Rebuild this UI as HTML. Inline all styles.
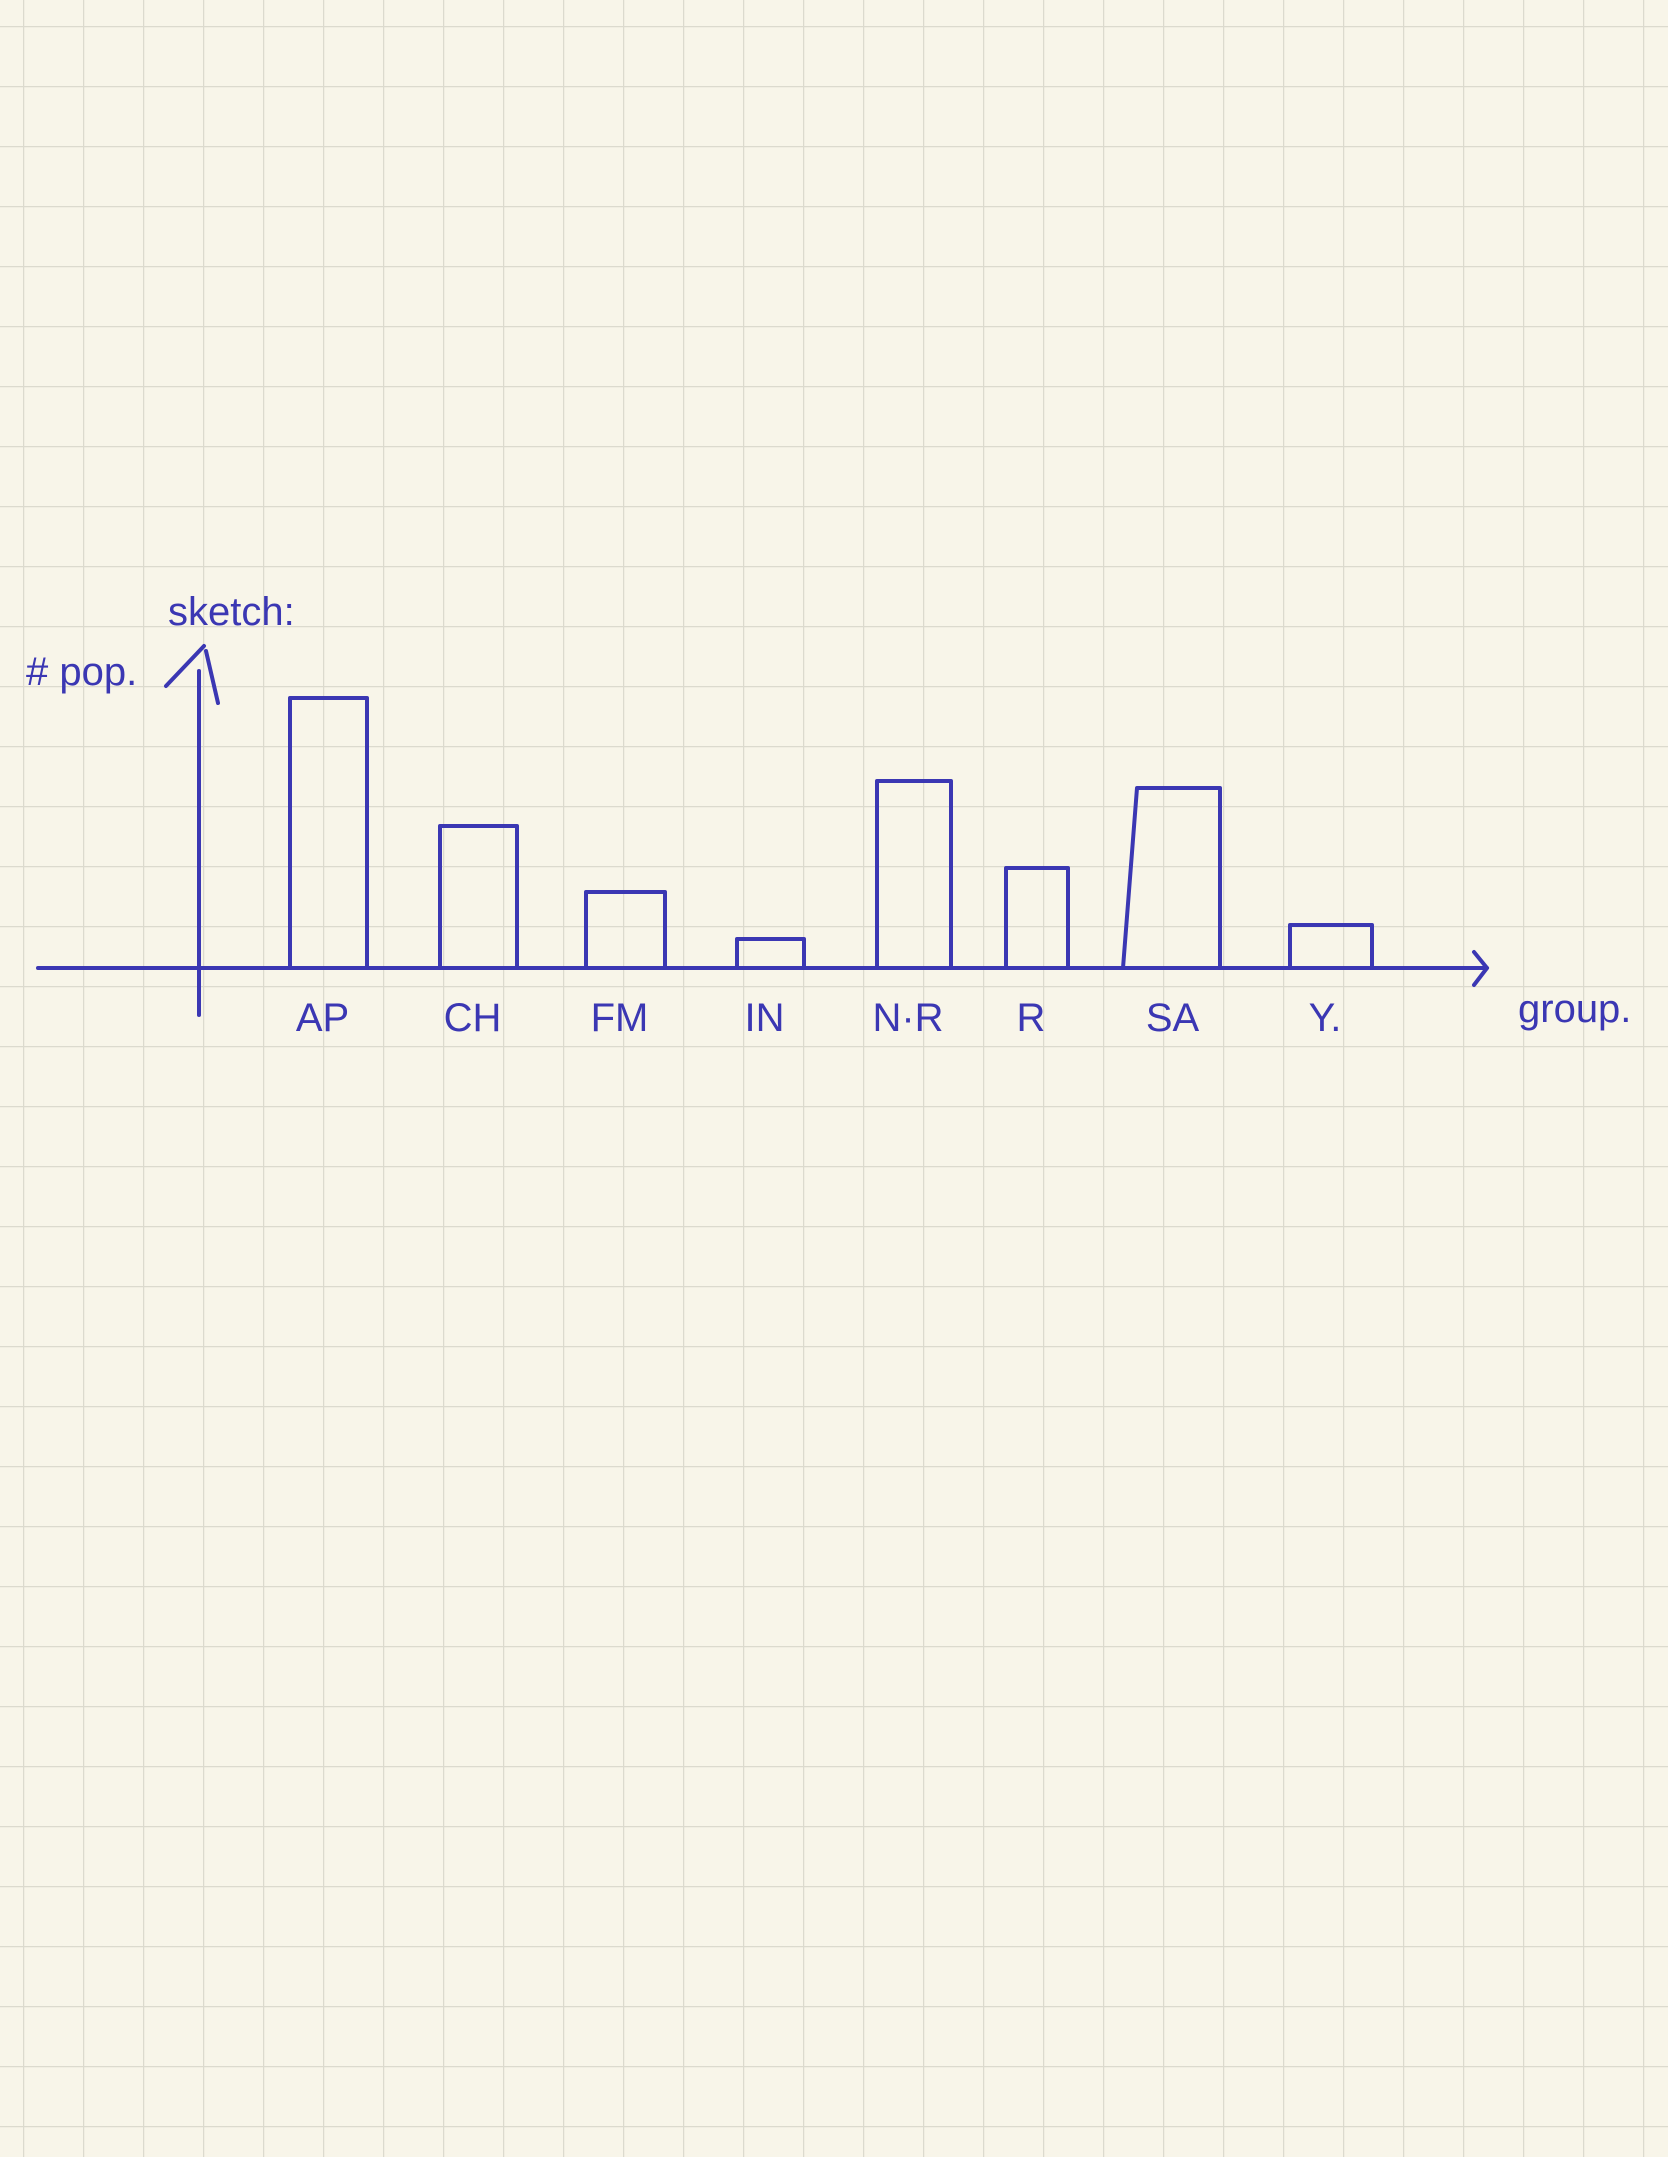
<!DOCTYPE html>
<html><head><meta charset="utf-8"><style>
html,body{margin:0;padding:0;background:#f8f5e9;}
svg{display:block}
</style></head><body>
<svg id="chart" width="1668" height="2157" xmlns="http://www.w3.org/2000/svg">
<defs>
<pattern id="grid" x="23" y="26" width="60" height="60" patternUnits="userSpaceOnUse">
<path d="M0 0V60M0 0H60" stroke="#dcdace" stroke-width="2.5" fill="none"/>
</pattern>
</defs>
<rect width="1668" height="2157" fill="#f8f5e9"/>
<rect width="1668" height="2157" fill="url(#grid)"/>
<g id="marks" stroke="#3b37b3" stroke-width="4" fill="none" stroke-linecap="round" stroke-linejoin="round"></g>
<g id="labels" fill="#3b37b3" font-family="Liberation Sans, sans-serif" font-size="40" text-anchor="middle"></g>
<text x="168" y="625" fill="#3b37b3" font-family="Liberation Sans, sans-serif" font-size="40">sketch:</text>
<text x="26" y="685" fill="#3b37b3" font-family="Liberation Sans, sans-serif" font-size="40"># pop.</text>
<text x="1518" y="1022" fill="#3b37b3" font-family="Liberation Sans, sans-serif" font-size="40">group.</text>
</svg>
<script>
const categories = ["AP","CH","FM","IN","N·R","R","SA","Y."];
const values = [270,142,76,29,187,100,180,43];
const barLeft = [290,440,586,737,877,1006,1137,1290];
const barWidth = [77,77,79,67,74,62,83,82];
const baseY = 968;
function y(v){ return baseY - v * 1.0; }
const NS = "http://www.w3.org/2000/svg";
const marks = document.getElementById('marks');
const labels = document.getElementById('labels');
function line(x1,y1,x2,y2,name){
  const l = document.createElementNS(NS,'line');
  l.setAttribute('x1',x1);l.setAttribute('y1',y1);l.setAttribute('x2',x2);l.setAttribute('y2',y2);
  
  
  marks.appendChild(l);
}
line(38,968,1485,968,'x-axis');
line(1474,952,1487,968,'x-axis-arrow');
line(1487,968,1474,985,'x-axis-arrow');
line(199,671,199,1015,'y-axis');
line(166,686,204,646,'y-axis-arrow');
line(206,651,218,703,'y-axis-arrow');
categories.forEach((c,i)=>{
  const x0 = barLeft[i], w = barWidth[i], yt = y(values[i]);
  const slant = (c === "SA") ? -14 : 0;
  const p = document.createElementNS(NS,'path');
  p.setAttribute('d',`M${x0+slant} ${baseY}L${x0} ${yt}H${x0+w}V${baseY}`);
  
  
  marks.appendChild(p);
  const t = document.createElementNS(NS,'text');
  t.setAttribute('x', x0 + w/2 - 6);
  t.setAttribute('y', 1031);
  t.textContent = c;
  
  
  labels.appendChild(t);
});
</script>
</body></html>
